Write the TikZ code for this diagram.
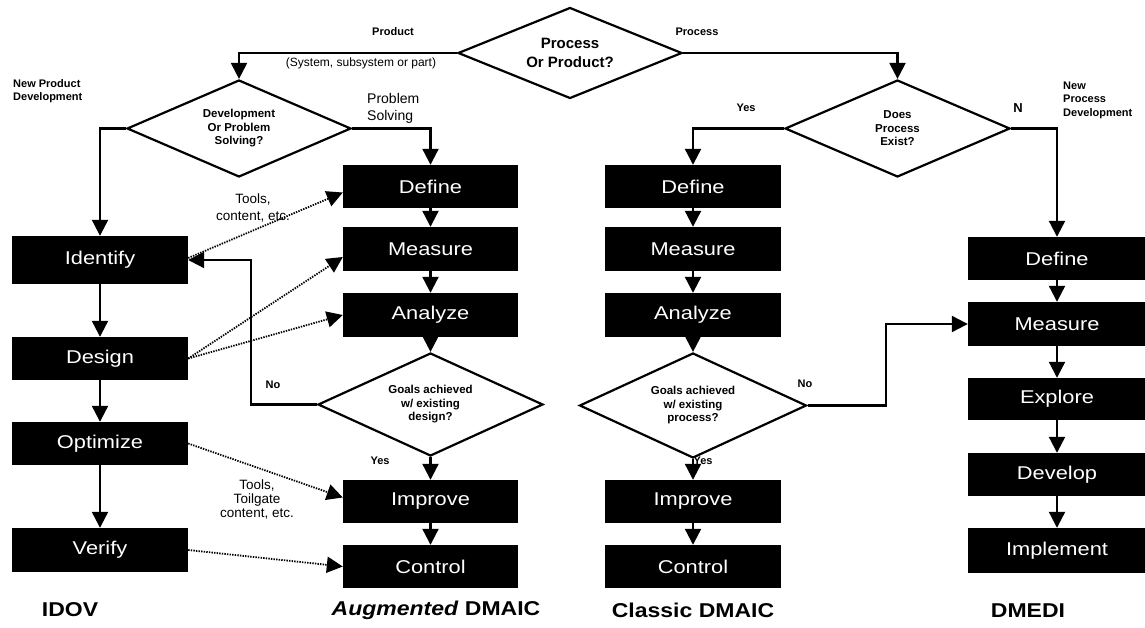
\documentclass[tikz,border=0pt]{standalone}
\usepackage{fontspec}
\setmainfont{Liberation Sans}
\newfontfamily\boxfont[FakeStretch=1.18]{Liberation Sans}
\newfontfamily\labfont[FakeStretch=1.15]{Liberation Sans}
\usetikzlibrary{arrows.meta,shapes.geometric}
\begin{document}
\begin{tikzpicture}[x=1pt,y=-1pt,
  box/.style={fill=black,draw=none,text=white,font=\boxfont\fontsize{18.5}{20}\selectfont,inner sep=0pt},
  dia/.style={diamond,draw=black,line width=2.2pt,inner sep=0pt,align=center,font=\bfseries\fontsize{11.5}{13.5}\selectfont},
  arr/.style={line width=2.2pt,-{Triangle[width=16pt,length=16pt]}},
  dotarr/.style={line width=1.8pt,dash pattern=on 1.4pt off 1.2pt,-{Triangle[width=16pt,length=16pt]}},
  lab/.style={font=\bfseries\fontsize{11}{13.5}\selectfont,align=left,inner sep=0pt},
  note/.style={font=\fontsize{13.5}{15}\selectfont,align=center,inner sep=0pt},
  title/.style={font=\labfont\bfseries\fontsize{20}{22}\selectfont,inner sep=0pt}]
\fill[white] (0,0) rectangle (1145,628);
\useasboundingbox (0,0) rectangle (1145,628);

% diamonds
\node[dia,aspect=2.46,minimum width=224pt,minimum height=91pt,font=\bfseries\fontsize{15}{19}\selectfont] (pop) at (570,53) {Process\\Or Product?};
\node[dia,aspect=2.3,minimum width=224pt,minimum height=97pt] (dps) at (239,128.5) {Development\\Or Problem\\Solving?};
\node[dia,aspect=2.3,minimum width=225pt,minimum height=97pt] (dpe) at (897.5,128.5) {Does\\Process\\Exist?};
\node[dia,aspect=2.18,minimum width=225pt,minimum height=103pt] (ga) at (430.5,404.5) {Goals achieved\\w/ existing\\design?};
\node[dia,aspect=2.16,minimum width=227pt,minimum height=105pt] (gc) at (693,405.5) {Goals achieved\\w/ existing\\process?};

% IDOV column
\node[box,minimum width=176pt,minimum height=48pt] (iid) at (100,260) {Identify};
\node[box,minimum width=176pt,minimum height=43pt] (ide) at (100,358.5) {Design};
\node[box,minimum width=176pt,minimum height=43pt] (iop) at (100,443.5) {Optimize};
\node[box,minimum width=176pt,minimum height=44pt] (ive) at (100,550) {Verify};

% Augmented DMAIC column
\node[box,minimum width=175pt,minimum height=43pt] (adef) at (430.5,186.5) {Define};
\node[box,minimum width=175pt,minimum height=44pt] (ameas) at (430.5,249) {Measure};
\node[box,minimum width=175pt,minimum height=44pt] (aana) at (430.5,315) {Analyze};
\node[box,minimum width=175pt,minimum height=43pt] (aimp) at (430.5,501.5) {Improve};
\node[box,minimum width=175pt,minimum height=43pt] (actl) at (430.5,566.5) {Control};

% Classic DMAIC column
\node[box,minimum width=176pt,minimum height=43pt] (cdef) at (693,186.5) {Define};
\node[box,minimum width=176pt,minimum height=44pt] (cmeas) at (693,249) {Measure};
\node[box,minimum width=176pt,minimum height=44pt] (cana) at (693,315) {Analyze};
\node[box,minimum width=176pt,minimum height=43pt] (cimp) at (693,501.5) {Improve};
\node[box,minimum width=176pt,minimum height=43pt] (cctl) at (693,566.5) {Control};

% DMEDI column
\node[box,minimum width=178pt,minimum height=43pt] (ddef) at (1057,258.5) {Define};
\node[box,minimum width=178pt,minimum height=44pt] (dmeas) at (1057,324) {Measure};
\node[box,minimum width=178pt,minimum height=42pt] (dexp) at (1057,399) {Explore};
\node[box,minimum width=178pt,minimum height=43pt] (ddev) at (1057,474.5) {Develop};
\node[box,minimum width=178pt,minimum height=45pt] (dimp) at (1057,550.5) {Implement};

% solid connectors
\draw[arr] (pop.west) -| (dps.north);
\draw[arr] (pop.east) -| (dpe.north);
\draw[arr] (dps.west) -| (iid.north);
\draw[arr] (dps.east) -| (adef.north);
\draw[arr] (dpe.west) -| (cdef.north);
\draw[arr] (dpe.east) -| (ddef.north);

\draw[arr] (iid) -- (ide);
\draw[arr] (ide) -- (iop);
\draw[arr] (iop) -- (ive);

\draw[arr] (adef) -- (ameas);
\draw[arr] (ameas) -- (aana);
\draw[arr] (aana.south) -- (ga.north);
\draw[arr] (ga.south) -- (aimp.north);
\draw[arr] (aimp) -- (actl);

\draw[arr] (cdef) -- (cmeas);
\draw[arr] (cmeas) -- (cana);
\draw[arr] (cana.south) -- (gc.north);
\draw[arr] (gc.south) -- (cimp.north);
\draw[arr] (cimp) -- (cctl);

\draw[arr] (ddef) -- (dmeas);
\draw[arr] (dmeas) -- (dexp);
\draw[arr] (dexp) -- (ddev);
\draw[arr] (ddev) -- (dimp);

\draw[arr] (ga.west) -- ++(-66,0) |- (iid.east);
\draw[arr] (gc.east) -- ++(78,0) |- (dmeas.west);

% dotted connectors
\draw[dotarr] ([yshift=2pt]iid.east) -- ([yshift=-6pt]adef.west);
\draw[dotarr] (ide.east) -- ([yshift=-8pt]ameas.west);
\draw[dotarr] (ide.east) -- (aana.west);
\draw[dotarr] (iop.east) -- ([yshift=4pt]aimp.west);
\draw[dotarr] (ive.east) -- (actl.west);

% labels
\node[lab] (lprod) at (393,32) {Product};
\node[note,font=\fontsize{12}{14}\selectfont] (lsys) at (361,63) {(System, subsystem or part)};
\node[lab] (lproc) at (697,32) {Process};
\node[lab,anchor=west] (lnpd) at (13,91) {New Product\\Development};
\node[note,anchor=west,align=left,font=\fontsize{14}{17}\selectfont] (lps) at (367,108.5) {Problem\\Solving};
\node[lab] (lyes1) at (746,108) {Yes};
\node[lab,font=\bfseries\fontsize{13}{15}\selectfont] (ln) at (1018,108) {N};
\node[lab,anchor=west] (lnpr) at (1063,100) {New\\Process\\Development};
\node[note,font=\fontsize{13.5}{17}\selectfont] (ltools1) at (253,208) {Tools,\\content, etc.};
\node[note,font=\fontsize{13.5}{14}\selectfont] (ltools2) at (257,499) {Tools,\\Toilgate\\content, etc.};
\node[lab] (lno1) at (273,385) {No};
\node[lab] (lno2) at (805,384) {No};
\node[lab] (lyes2) at (380,461) {Yes};
\node[lab] (lyes3) at (703,461) {Yes};

\node[title] (tidov) at (70,610) {IDOV};
\node[title] (taug) at (436,610) {\textit{Augmented} DMAIC};
\node[title] (tcla) at (693,610) {Classic DMAIC};
\node[title] (tdme) at (1028,611) {DMEDI};
\end{tikzpicture}
\end{document}
